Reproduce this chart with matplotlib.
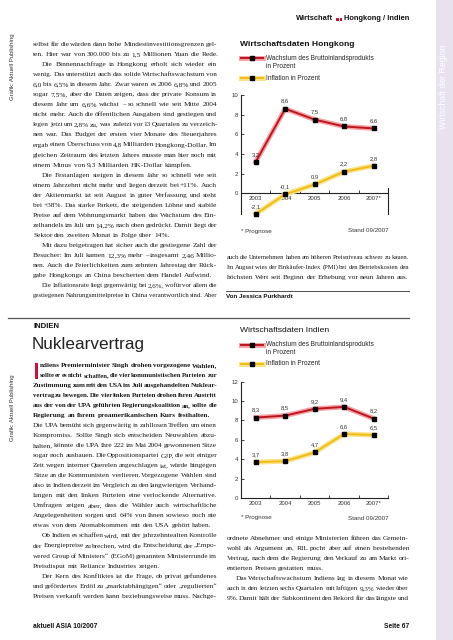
import matplotlib
matplotlib.use("Agg")
import matplotlib.pyplot as plt
import matplotlib.patheffects as pe
from matplotlib.patches import Rectangle
from matplotlib.lines import Line2D

# ---------------- DATA ----------------
years = ["2003", "2004", "2005", "2006", "2007*"]
hk_gdp = [3.2, 8.6, 7.5, 6.8, 6.6]
hk_infl = [-2.1, -0.1, 0.9, 2.2, 2.8]
in_gdp = [8.3, 8.5, 9.2, 9.4, 8.2]
in_infl = [3.7, 3.8, 4.7, 6.6, 6.5]

hk_yticks = [0, 2, 4, 6, 8, 10]
in_yticks = [0, 2, 4, 6, 8, 10, 12]

hk_text = [
    "selbst für die würden dann hohe Mindestinvestitionsgrenzen gel-",
    "ten. Hier war von 300.000 bis zu 1,5 Millionen Yuan die Rede.",
    "Die Binnennachfrage in Hongkong erholt sich wieder ein",
    "wenig. Das unterstützt auch das solide Wirtschaftswachstum von",
    "6,0 bis 6,5% in diesem Jahr. Zwar waren es 2006 6,8% und 2005",
    "sogar 7,5%, aber die Daten zeigen, dass der private Konsum in",
    "diesem Jahr um 6,6% wächst – so schnell wie seit Mitte 2004",
    "nicht mehr. Auch die öffentlichen Ausgaben sind gestiegen und",
    "legen jetzt um 2,8% zu, was zuletzt vor 13 Quartalen zu verzeich-",
    "nen war. Das Budget der ersten vier Monate des Steuerjahres",
    "ergab einen Überschuss von 4,8 Milliarden Hongkong-Dollar. Im",
    "gleichen Zeitraum des letzten Jahres musste man hier noch mit",
    "einem Minus von 9,3 Milliarden HK-Dollar kämpfen.",
    "Die Festanlagen steigen in diesem Jahr so schnell wie seit",
    "einem Jahrzehnt nicht mehr und liegen derzeit bei +11%. Auch",
    "der Aktienmarkt ist seit August in guter Verfassung und steht",
    "bei +38%. Das starke Parkett, die steigenden Löhne und stabile",
    "Preise auf dem Wohnungsmarkt haben das Wachstum des Ein-",
    "zelhandels im Juli um 14,2% nach oben gedrückt. Damit liegt der",
    "Sektor den zweiten Monat in Folge über 14%.",
    "Mit dazu beigetragen hat sicher auch die gestiegene Zahl der",
    "Besucher: Im Juli kamen 12,3% mehr – insgesamt 2,46 Millio-",
    "nen. Auch die Feierlichkeiten zum zehnten Jahrestag der Rück-",
    "gabe Hongkongs an China bescherten dem Handel Aufwind.",
    "Die Inflationsrate liegt gegenwärtig bei 2,6%, wofür vor allem die",
    "gestiegenen Nahrungsmittelpreise in China verantwortlich sind. Aber",
]
hk_last = {1, 12, 19, 23}
hk_indent = {2, 13, 20, 24}

hk_text2 = [
    "auch die Unternehmen haben am höheren Preisniveau schwer zu kauen.",
    "Im August wies der Einkäufer-Index (PMI) bei den Betriebskosten den",
    "höchsten Wert seit Beginn der Erhebung vor neun Jahren aus.",
]

in_lead = [
    "ndiens Premierminister Singh drohen vorgezogene Wahlen,",
    "sollte er es nicht schaffen, die vier kommunistischen Parteien zur",
    "Zustimmung zum mit den USA im Juli ausgehandelten Nuklear-",
    "vertrag zu bewegen. Die vier linken Parteien drohen ihren Austritt",
    "aus der von der UPA geführten Regierungskoalition an, sollte die",
    "Regierung an ihrem proamerikanischen Kurs festhalten.",
]

in_text = [
    "Die UPA bemüht sich gegenwärtig in zahllosen Treffen um einen",
    "Kompromiss. Sollte Singh sich entscheiden Neuwahlen abzu-",
    "halten, könnte die UPA ihre 222 im Mai 2004 gewonnenen Sitze",
    "sogar noch ausbauen. Die Oppositionspartei GJP, die seit einiger",
    "Zeit wegen interner Querelen angeschlagen ist, würde hingegen",
    "Sitze an die Kommunisten verlieren. Vorgezogene Wahlen sind",
    "also in Indien derzeit im Vergleich zu den langwierigen Verhand-",
    "lungen mit den linken Parteien eine verlockende Alternative.",
    "Umfragen zeigen aber, dass die Wähler auch wirtschaftliche",
    "Angelegenheiten sorgen und 64% von ihnen sowieso noch nie",
    "etwas von dem Atomabkommen mit den USA gehört haben.",
    "Ob Indien es schaffen wird, mit der jahrzehntealten Kontrolle",
    "der Energiepreise zu brechen, wird die Entscheidung der „Empo-",
    "wered Group of Ministers“ (EGoM) genannten Ministerrunde im",
    "Preisdisput mit Reliance Industries zeigen.",
    "Der Kern des Konfliktes ist die Frage, ob privat gefundenes",
    "und gefördertes Erdöl zu „marktabhängigen“ oder „regulierten“",
    "Preisen verkauft werden kann beziehungsweise muss. Nachge-",
]
in_last = {10, 14}
in_indent = {11, 15}

in_text2 = [
    "ordnete Abnehmer und einige Ministerien führen das Gemein-",
    "wohl als Argument an, RIL pocht aber auf einen bestehenden",
    "Vertrag, nach dem die Regierung den Verkauf zu am Markt ori-",
    "entierten Preisen gestatten muss.",
    "Das Wirtschaftswachstum Indiens lag in diesem Monat wie",
    "auch in den letzten sechs Quartalen mit luftigen 9,3% wieder über",
    "9%. Damit hält der Subkontinent den Rekord für das längste und",
]

# ---------------- CONFIG ----------------
W, H = 453, 640
SERIF = "Liberation Serif"
SANS = "Liberation Sans"
RED, RED_HALO = "#c0141f", "#f5a3a6"
YEL, YEL_HALO = "#f0bd12", "#fbe38a"
LAVENDER = "#e8e2ef"
STEP = 10.05
BODY = 5.3

fig = plt.figure(figsize=(W / 100, H / 100), dpi=100)
fig.patch.set_facecolor("white")
renderer = fig.canvas.get_renderer()


def fx(px):
    return px / W


def fy(py):
    return 1 - py / H


def text_w(t):
    return t.get_window_extent(renderer).width


def put_text(lines, x0, y0, width, size=BODY, weight="normal", last=(), indent=(),
             ind=9, first_indent=None):
    # justified column text, placed word by word
    for i, line in enumerate(lines):
        y = y0 + i * STEP + 2.0
        words = line.split()
        xs = x0 + (ind if i in indent else 0)
        if first_indent and i in first_indent:
            xs = x0 + first_indent[i]
        avail = x0 + width - xs
        fs = size
        objs = [fig.text(0, 0, w, fontsize=fs, family=SERIF, weight=weight,
                         color="#1a1a1a", va="baseline", ha="left") for w in words]
        widths = [text_w(o) for o in objs]
        min_gap = 0.13 * fs * 100 / 72
        need = sum(widths) + (len(words) - 1) * min_gap
        if need > avail:
            # line too long -> shrink this line slightly
            fs = fs * avail / need
            for o in objs:
                o.set_fontsize(fs)
            widths = [text_w(o) for o in objs]
        space = 0.25 * fs * 100 / 72
        if i in last or len(words) == 1:
            gap = space
        else:
            gap = (avail - sum(widths)) / (len(words) - 1)
        x = xs
        for o, w in zip(objs, widths):
            o.set_position((fx(x), fy(y)))
            x += w + gap


# ---------------- PAGE FURNITURE ----------------
fig.add_artist(Rectangle((fx(436), 0), fx(17), 1, transform=fig.transFigure,
                         color=LAVENDER, lw=0, zorder=0))
fig.text(fx(443.5), fy(87), "Wirtschaft der Region", rotation=90, color="white",
         fontsize=6.3, family=SANS, ha="center", va="center")

hdr = fig.text(fx(409), fy(18.5), "Hongkong / Indien", fontsize=5.4, family=SANS,
               weight="bold", ha="right", va="center", color="#111111")
hx = 409 - text_w(hdr) - 1.8
for k in range(2):
    fig.add_artist(Rectangle((fx(hx - 2.3 - k * 3.2), fy(20.6)), fx(2.3), 2.3 / H,
                             transform=fig.transFigure, color="#d0103a", lw=0))
fig.text(fx(hx - 8.6), fy(18.5), "Wirtschaft", fontsize=5.4, family=SANS,
         weight="bold", ha="right", va="center", color="#111111")

for cy in (67, 408):
    fig.text(fx(12.5), fy(cy), "Grafik: Aktuell Publishing", rotation=90,
             fontsize=4.3, family=SANS, ha="center", va="center", color="#333333")

fig.text(fx(33), fy(627), "aktuell ASIA 10/2007", fontsize=4.8, family=SANS,
         weight="bold", ha="left", va="center", color="#111111")
fig.text(fx(409), fy(627), "Seite 67", fontsize=4.8, family=SANS,
         weight="bold", ha="right", va="center", color="#111111")

# ---------------- TEXT COLUMNS ----------------
put_text(hk_text, 33, 44, 184, last=hk_last, indent=hk_indent)
put_text(hk_text2, 226.5, 257, 182.5, last={2})

fig.add_artist(Line2D([fx(226), fx(409)], [fy(290.8), fy(290.8)],
                      transform=fig.transFigure, color="#333333", lw=0.6))
fig.text(fx(226.5), fy(297), "Von Jessica Purkhardt", fontsize=4.5, family=SANS,
         weight="bold", ha="left", va="center", color="#111111")
fig.add_artist(Line2D([fx(8), fx(409)], [fy(318), fy(318)],
                      transform=fig.transFigure, color="#555555", lw=0.9))

fig.text(fx(33), fy(327), "INDIEN", fontsize=5.6, family=SANS, weight="bold",
         ha="left", va="center", color="#111111")
fig.text(fx(32), fy(344), "Nuklearvertrag", fontsize=12.3, family=SANS,
         weight="light", ha="left", va="center", color="#222222")

fig.add_artist(Rectangle((fx(35), fy(378.5)), fx(2.8), 16 / H,
                         transform=fig.transFigure, color="#d0103a", lw=0))
put_text(in_lead, 33, 364.6, 184, weight="bold", last={5},
         first_indent={0: 6.5, 1: 6.5})
put_text(in_text, 33, 364.6 + 6 * STEP, 184, last=in_last, indent=in_indent)
put_text(in_text2, 226.5, 537.7, 182.5, last={3}, indent={4})


# ---------------- CHARTS ----------------
def fmt(v):
    return f"{v:.1f}".replace(".", ",")


def draw_chart(top_px, bot_px, ylo, yhi, yticks, gdp, infl, right_bounds=None):
    ax = fig.add_axes([fx(241), fy(bot_px), fx(388.3) - fx(241), fy(top_px) - fy(bot_px)])
    ax.set_facecolor("none")
    x = list(range(len(years)))
    ax.set_xlim(-0.5, len(years) - 0.5)
    ax.set_ylim(ylo, yhi)
    for vals, core, halo in ((gdp, RED, RED_HALO), (infl, YEL, YEL_HALO)):
        ax.plot(x, vals, color=core, lw=1.4, solid_joinstyle="round", clip_on=False,
                path_effects=[pe.Stroke(linewidth=3.6, foreground=halo), pe.Normal()],
                zorder=3)
        ax.plot(x, vals, "s", color="black", ms=3.0, clip_on=False, zorder=4)
        for xi, v in zip(x, vals):
            ax.annotate(fmt(v), (xi, v), xytext=(0, 3.6), textcoords="offset points",
                        ha="center", va="bottom", fontsize=4.2, family=SANS,
                        color="#333333")
    ax.spines["top"].set_visible(False)
    ax.spines["bottom"].set_position(("data", 0))
    ax.spines["left"].set_bounds(ylo, yhi)
    if right_bounds:
        ax.spines["right"].set_bounds(*right_bounds)
    else:
        ax.spines["right"].set_visible(False)
    for s in ("left", "bottom", "right"):
        ax.spines[s].set_linewidth(0.8)
        ax.spines[s].set_color("#222222")
    ax.set_xticks([i + 0.5 for i in range(len(years))])
    ax.set_xticklabels([])
    ax.set_xticks(x, minor=True)
    ax.set_xticklabels(years, minor=True, fontsize=4.3, family=SANS, color="#333333")
    ax.tick_params(axis="x", which="major", direction="in", length=2.2, width=0.6,
                   color="#222222")
    ax.tick_params(axis="x", which="minor", length=0, pad=2.2)
    ax.set_yticks(yticks)
    ax.set_yticklabels([str(t) for t in yticks], fontsize=4.3, family=SANS,
                       color="#333333")
    ax.tick_params(axis="y", direction="in", length=2.2, width=0.6, pad=2,
                   color="#222222")
    return ax


draw_chart(95, 213.5, -2.05, 10, hk_yticks, hk_gdp, hk_infl, right_bounds=(-2.05, 0.5))
draw_chart(381.7, 498, 0, 12, in_yticks, in_gdp, in_infl)


def legend_block(title, y_title, y_red, y_yel, bold):
    fig.text(fx(240), fy(y_title), title, fontsize=6.1, family=SANS,
             weight="bold" if bold else "normal", ha="left", va="center", color="#111111")
    for yy, core, halo in ((y_red, RED, RED_HALO), (y_yel, YEL, YEL_HALO)):
        fig.add_artist(Line2D([fx(241), fx(263)], [fy(yy), fy(yy)], transform=fig.transFigure,
                              color=core, lw=1.4,
                              path_effects=[pe.Stroke(linewidth=3.6, foreground=halo), pe.Normal()]))
        fig.add_artist(Line2D([fx(252)], [fy(yy)], transform=fig.transFigure, marker="s",
                              color="black", ms=3.0, lw=0))
    fig.text(fx(266), fy(y_red), "Wachstum des Bruttoinlandsprodukts", fontsize=4.7,
             family=SANS, ha="left", va="center", color="#222222")
    fig.text(fx(266), fy(y_red + 8.5), "in Prozent", fontsize=4.7,
             family=SANS, ha="left", va="center", color="#222222")
    fig.text(fx(266), fy(y_yel), "Inflation in Prozent", fontsize=4.7,
             family=SANS, ha="left", va="center", color="#222222")


legend_block("Wirtschaftsdaten Hongkong", 44, 58, 78, True)
legend_block("Wirtschaftsdaten Indien", 330, 344.5, 363.5, False)

for yy in (231, 518):
    fig.text(fx(241), fy(yy), "* Prognose", fontsize=4.5, family=SANS,
             ha="left", va="center", color="#333333")
    fig.text(fx(388.3), fy(yy), "Stand 09/2007", fontsize=4.5, family=SANS,
             ha="right", va="center", color="#333333")

fig.savefig("out.png", dpi=100)
